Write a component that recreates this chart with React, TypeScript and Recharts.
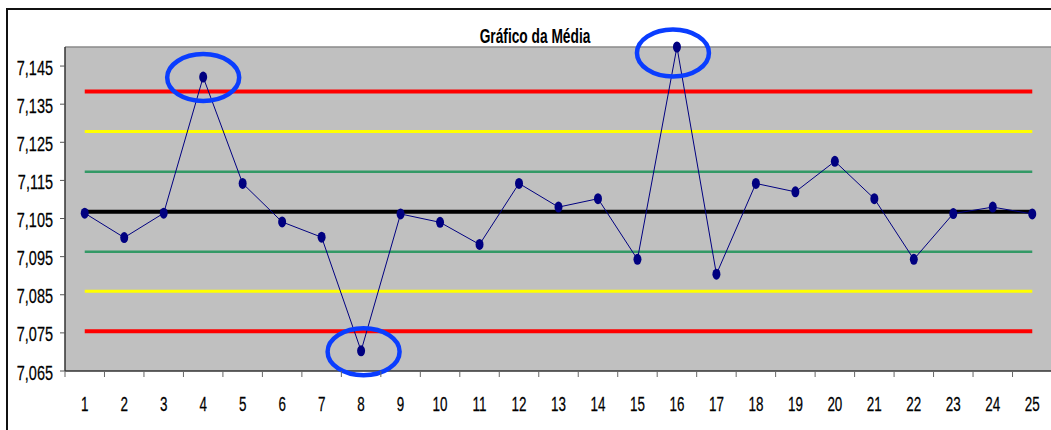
import React from 'react';
import { LineChart, Line, XAxis, YAxis, CartesianGrid, ReferenceDot, ReferenceLine } from 'recharts';

// Subgroup numbers and their means
const samples = [1, 2, 3, 4, 5, 6, 7, 8, 9, 10, 11, 12, 13, 14, 15, 16, 17, 18, 19, 20, 21, 22, 23, 24, 25];
const means = [
  7.1064, 7.1, 7.1064, 7.1421, 7.1142, 7.1041, 7.1001, 7.0703, 7.1062, 7.104,
  7.0982, 7.1142, 7.108, 7.1102, 7.0943, 7.15, 7.0904, 7.1142, 7.112, 7.12,
  7.1102, 7.0943, 7.1063, 7.108, 7.1062,
];

// Control limits (center line, 1 sigma, 2 sigma and 3 sigma bands)
const centerLine = 7.1068;
const upperLimits = [7.1173, 7.1278, 7.1383];
const lowerLimits = [7.0963, 7.0859, 7.0754];

// Out-of-control subgroups that are circled
const flagged = [4, 8, 16];

const yTicks = [7.065, 7.075, 7.085, 7.095, 7.105, 7.115, 7.125, 7.135, 7.145];
const yDomain = [7.065, 7.15];
const title = 'Gráfico da Média';

const rows = samples.map((n, i) => ({
  n,
  mean: means[i],
  cl: centerLine,
  u1: upperLimits[0],
  u2: upperLimits[1],
  u3: upperLimits[2],
  l1: lowerLimits[0],
  l2: lowerLimits[1],
  l3: lowerLimits[2],
}));

// label ticks at integers, tick marks between subgroups
const xTicks: number[] = [];
for (let i = 0; i <= samples.length; i++) {
  xTicks.push(i + 0.5);
  if (i < samples.length) xTicks.push(samples[i]);
}

const FONT = '"Liberation Sans", Arial, sans-serif';

const XTick = (props: any) => {
  const { x, y, payload } = props;
  const v = payload.value as number;
  if (v % 1 !== 0) {
    return <line x1={x} x2={x} y1={y} y2={y + 6} stroke="#666" strokeWidth={1} />;
  }
  return (
    <text
      transform={`translate(${x},${y + 40}) scale(0.64,1)`}
      textAnchor="middle"
      fontFamily={FONT}
      fontSize={21}
      fill="#000"
      stroke="#000"
      strokeWidth={0.25}
    >
      {v}
    </text>
  );
};

const YTick = (props: any) => {
  const { x, y, payload } = props;
  const label = (payload.value as number).toFixed(3).replace('.', ',');
  return (
    <text
      transform={`translate(${x},${y + 8.5}) scale(0.69,1)`}
      textAnchor="end"
      fontFamily={FONT}
      fontSize={21}
      fill="#000"
      stroke="#000"
      strokeWidth={0.25}
    >
      {label}
    </text>
  );
};

const Dot = (props: any) => {
  const { cx, cy, index } = props;
  if (cx == null || cy == null) return <g key={`d${index}`} />;
  return <ellipse key={`d${index}`} cx={cx} cy={cy} rx={4} ry={5.5} fill="#000080" />;
};

const ringShape = (dx: number, dy: number) => (props: any) => {
  const { cx, cy } = props;
  return (
    <ellipse
      cx={cx + dx}
      cy={cy + dy}
      rx={36}
      ry={23.5}
      fill="none"
      stroke="#0a3dff"
      strokeWidth={4.5}
    />
  );
};

const ringOffsets: Record<number, [number, number]> = { 4: [0, 0.5], 8: [2.5, 1], 16: [-4, 6] };

export default function App() {
  return (
    <div
      style={{
        position: 'absolute',
        left: 0,
        top: 0,
        width: 1051,
        height: 430,
        overflow: 'hidden',
        background: '#fff',
      }}
    >
      <div
        style={{
          position: 'absolute',
          left: 6,
          top: 8,
          width: 1200,
          height: 600,
          border: '2px solid #111',
          boxSizing: 'border-box',
        }}
      />
      <div style={{ position: 'absolute', left: 0, top: 0 }}>
        <LineChart
          width={1100}
          height={430}
          data={rows}
          margin={{ top: 47, right: 48, bottom: 29, left: 0 }}
        >
          <CartesianGrid fill="#C0C0C0" fillOpacity={1} horizontal={false} vertical={false} />
          <ReferenceLine y={yDomain[1]} stroke="#8a8a8a" strokeWidth={1.5} />
          <XAxis
            type="number"
            dataKey="n"
            domain={[0.5, samples.length + 0.5]}
            ticks={xTicks}
            interval={0}
            tickSize={0}
            tickMargin={0}
            tickLine={false}
            axisLine={{ stroke: '#333', strokeWidth: 1.5 }}
            tick={<XTick />}
            height={30}
          />
          <YAxis
            type="number"
            domain={yDomain}
            ticks={yTicks}
            interval={0}
            tickSize={5}
            tickMargin={7}
            tickLine={{ stroke: '#555' }}
            axisLine={{ stroke: '#333', strokeWidth: 1.5 }}
            tick={<YTick />}
            width={65}
          />
          <Line dataKey="u3" stroke="#FF0000" strokeWidth={4} dot={false} isAnimationActive={false} />
          <Line dataKey="l3" stroke="#FF0000" strokeWidth={4} dot={false} isAnimationActive={false} />
          <Line dataKey="u2" stroke="#FFFF00" strokeWidth={3} dot={false} isAnimationActive={false} />
          <Line dataKey="l2" stroke="#FFFF00" strokeWidth={3} dot={false} isAnimationActive={false} />
          <Line dataKey="u1" stroke="#339966" strokeWidth={2.5} dot={false} isAnimationActive={false} />
          <Line dataKey="l1" stroke="#339966" strokeWidth={2.5} dot={false} isAnimationActive={false} />
          <Line dataKey="cl" stroke="#000000" strokeWidth={4} dot={false} isAnimationActive={false} />
          <Line
            dataKey="mean"
            stroke="#000080"
            strokeWidth={1}
            dot={Dot}
            activeDot={false}
            isAnimationActive={false}
          />
          {flagged.map((n) => {
            const [dx, dy] = ringOffsets[n];
            return (
              <ReferenceDot
                key={`ring${n}`}
                x={n}
                y={means[n - 1]}
                ifOverflow="visible"
                shape={ringShape(dx, dy)}
              />
            );
          })}
        </LineChart>
      </div>
      <svg
        width={1051}
        height={430}
        style={{ position: 'absolute', left: 0, top: 0, pointerEvents: 'none' }}
      >
        <text
          transform="translate(535,43) scale(0.705,1)"
          textAnchor="middle"
          fontFamily={FONT}
          fontWeight="bold"
          fontSize={19.5}
          fill="#000"
        >
          {title}
        </text>
      </svg>
    </div>
  );
}
